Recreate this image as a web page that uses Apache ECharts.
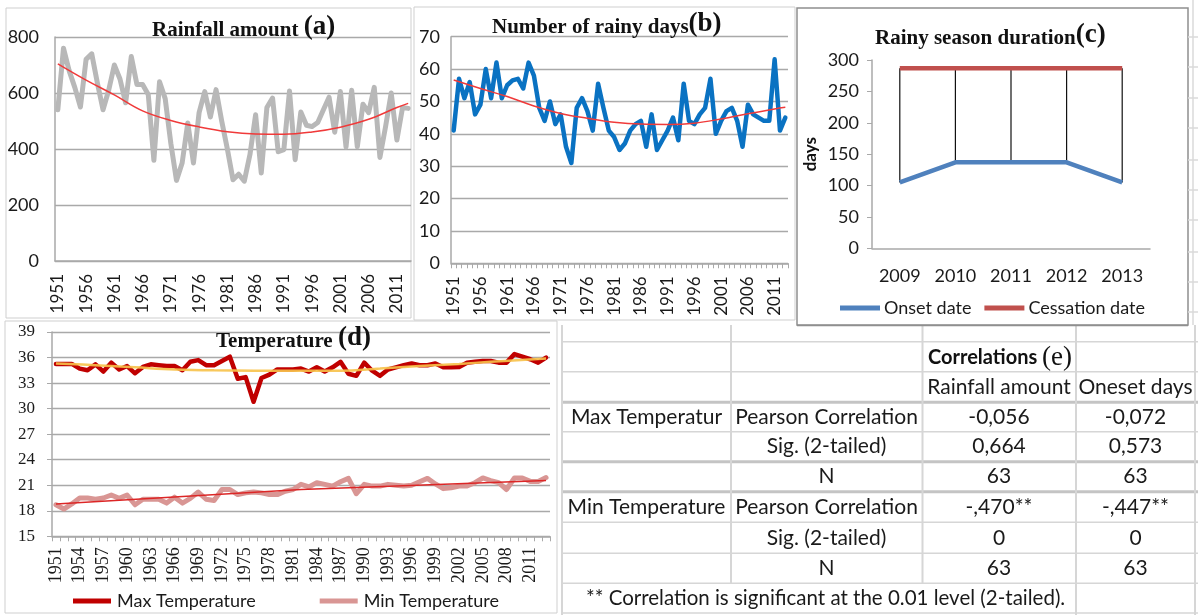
<!DOCTYPE html>
<html><head><meta charset="utf-8">
<script src="https://cdn.jsdelivr.net/npm/echarts@6/dist/echarts.min.js"></script>
<style>html,body{margin:0;padding:0;background:#fff}#c{width:1198px;height:615px}</style>
</head><body><div id="c"></div><script>
// ---------- categories ----------
const years = [];
for (let y = 1951; y <= 2013; y++) years.push(String(y));
const seasonYears = ['2009', '2010', '2011', '2012', '2013'];

// ---------- (a) Rainfall amount ----------
const rainfall = [540,760,680,620,550,720,740,636,540,610,
  700,650,565,730,630,630,595,360,640,580,
  420,288,350,493,350,530,605,514,612,500,
  400,290,310,285,380,522,314,548,582,390,
  398,607,362,532,485,480,495,540,585,460,
  605,407,610,408,560,530,620,370,480,600,
  432,548,545];
const rainTrend = [['1951',704],['1956',646],['1961',593],['1966',536],['1971',502],['1976',479],['1981',462],
  ['1986',454],['1991',453],['1996',461],['2001',478],['2006',506],['2011',548],['2013',563]];
const rainTicks = [0, 200, 400, 600, 800];

// ---------- (b) Number of rainy days ----------
const rainyDays = [41,57,51,56,46,49,60,51,62,51,
  55,56.5,57,54,62,58,48,44,50,43,
  46,36,31,48,51,47,41,55.5,48,41,
  39,35,37,41,43,44,36,46,35,38,
  41,45,38,55.5,44,43,46,48,57,40,
  44,47,48,44,36,49,46,45,44,44,
  63,41,45];
const daysTrend = [['1951',56.6],['1956',54],['1961',51.5],['1966',48.6],['1971',46.3],['1976',44.8],['1981',43.6],
  ['1986',43.0],['1991',42.9],['1996',43.3],['2001',44.6],['2006',46.2],['2011',47.7],['2013',48.2]];
const daysTicks = [0, 10, 20, 30, 40, 50, 60, 70];

// ---------- (c) Rainy season duration ----------
const onsetDate = [105, 137, 137, 137, 105];
const cessationDate = [287, 287, 287, 287, 287];
const seasonTicks = [0, 50, 100, 150, 200, 250, 300];

// ---------- (d) Temperature ----------
const maxTemp = [35.25,35.25,35.25,34.7,34.5,35.2,34.35,35.4,34.6,35.0,
  34.15,34.9,35.2,35.1,35.0,35.0,34.5,35.5,35.7,35.1,
  35.1,35.6,36.1,33.5,33.7,30.8,33.6,34.0,34.6,34.6,
  34.6,34.7,34.35,34.85,34.35,34.85,35.5,34.1,33.85,35.4,
  34.45,33.85,34.6,34.85,35.1,35.3,35.1,35.1,35.3,34.85,
  34.85,34.9,35.4,35.5,35.6,35.6,35.4,35.4,36.4,36.1,
  35.8,35.4,36.0];
const maxTrend = [['1951',35.3],['1956',35.1],['1961',34.85],['1966',34.6],['1971',34.5],['1981',34.45],
  ['1987',34.45],['1992',34.7],['1997',35.0],['2002',35.25],['2006',35.5],['2013',35.9]];
const minTemp = [18.7,18.2,18.8,19.5,19.5,19.35,19.5,19.85,19.45,19.85,
  18.7,19.35,19.35,19.35,18.9,19.6,18.9,19.45,20.2,19.35,
  19.2,20.5,20.5,19.9,20.1,20.2,20.1,19.9,19.9,20.3,
  20.5,21.1,20.8,21.3,21.1,20.9,21.4,21.8,20.0,21.1,
  20.9,20.9,21.1,21.0,20.9,21.0,21.4,21.8,21.15,20.6,
  20.7,20.9,20.9,21.3,21.85,21.55,21.3,20.5,21.85,21.85,
  21.45,21.45,21.9];
const minTrend = [['1951',18.8],['1982',20.5],['2013',21.55]];
const tempTicks = [15, 18, 21, 24, 27, 30, 33, 36, 39];

// ---------- (e) Correlations table ----------
const tableHeader = ['Rainfall amount', 'Oneset days'];
const tableRows = [
  ['Max Temperatur', 'Pearson Correlation', '-0,056', '-0,072'],
  ['', 'Sig. (2-tailed)', '0,664', '0,573'],
  ['', 'N', '63', '63'],
  ['Min Temperature', 'Pearson Correlation', '-,470**', '-,447**'],
  ['', 'Sig. (2-tailed)', '0', '0'],
  ['', 'N', '63', '63']
];
const footnote = '** Correlation is significant at the 0.01 level (2-tailed).';

// ---------- styling helpers ----------
const SANS = 'Lato';
const SERIF = 'Liberation Serif';
const GRIDC = '#a9a9a9';
function rng(t) { return { min: t[0], max: t[t.length - 1], interval: t[1] - t[0] }; }
function titleRich(main, tag, left, top) {
  return {
    text: '{t|' + main + '}{p|' + tag + '}', left: left, top: top, padding: 0,
    textStyle: { rich: {
      t: { fontFamily: SERIF, fontWeight: 'bold', fontSize: 21, color: '#111', verticalAlign: 'bottom' },
      p: { fontFamily: SERIF, fontWeight: 'bold', fontSize: 27, color: '#111', verticalAlign: 'bottom' }
    } }
  };
}
const lineBase = { type: 'line', symbol: 'none', animation: false };

// ---------- table graphics ----------
const colX = [562, 731, 922.5, 1076, 1195];
const rowY = [341.7, 371.7, 402.3, 431.7, 461.7, 491.7, 522.3, 553.3, 583.3, 613];
const colCenters = [646.5, 826.5, 999, 1135.5];
const thickRows = [402.3, 461.7, 491.7];
const graphics = [];
// panel frames
graphics.push({ type: 'rect', shape: { x: 6, y: 8, width: 405, height: 310 }, style: { fill: null, stroke: '#cfcfcf', lineWidth: 1 }, silent: true, z: -1 });
graphics.push({ type: 'rect', shape: { x: 414, y: 7, width: 381, height: 313 }, style: { fill: null, stroke: '#cfcfcf', lineWidth: 1 }, silent: true, z: -1 });
graphics.push({ type: 'rect', shape: { x: 797, y: 8, width: 391, height: 317 }, style: { fill: null, stroke: '#8f8f8f', lineWidth: 1.5 }, silent: true, z: -1 });
graphics.push({ type: 'rect', shape: { x: 5, y: 321, width: 552, height: 292 }, style: { fill: null, stroke: '#cfcfcf', lineWidth: 1 }, silent: true, z: -1 });
// spreadsheet grid on the right of panel (c)
graphics.push({ type: 'line', shape: { x1: 1193, y1: 0, x2: 1193, y2: 325 }, style: { stroke: '#dadada', lineWidth: 1.5 }, silent: true });
[37, 67, 98, 128, 160, 190, 220, 252, 282, 312].forEach(function (y) {
  graphics.push({ type: 'line', shape: { x1: 1188, y1: y, x2: 1198, y2: y }, style: { stroke: '#dadada', lineWidth: 1.5 }, silent: true });
});
// table lines
rowY.forEach(function (y) {
  const thick = thickRows.indexOf(y) >= 0;
  graphics.push({ type: 'line', shape: { x1: colX[0], y1: y, x2: 1198, y2: y },
    style: { stroke: thick ? '#c4c4c4' : '#d6d6d6', lineWidth: thick ? 3 : 1.5 }, silent: true });
});
colX.forEach(function (x, k) {
  const full = (k === 0 || k === 3 || k === 4);
  graphics.push({ type: 'line', shape: { x1: x, y1: 325, x2: x, y2: full ? 615 : 583.3 },
    style: { stroke: '#d6d6d6', lineWidth: 2 }, silent: true });
});
graphics.push({ type: 'line', shape: { x1: 797, y1: 325.5, x2: 1188, y2: 325.5 }, style: { stroke: '#8f8f8f', lineWidth: 1.5 }, silent: true });
function cellText(txt, x, y, opts) {
  const st = Object.assign({ text: txt, x: x, y: y, fill: '#1a1a1a', font: '21px ' + SANS, align: 'center', verticalAlign: 'middle' }, opts || {});
  graphics.push({ type: 'text', style: st, silent: true });
}
function midRow(k) { return (rowY[k] + rowY[k + 1]) / 2; }
// title row
graphics.push({ type: 'text', silent: true, style: {
  x: 928, y: midRow(0) + 1, verticalAlign: 'middle', align: 'left',
  text: '{b|Correlations }{e|(e)}',
  rich: { b: { fontFamily: SANS, fontWeight: 'bold', fontSize: 20, fill: '#111', verticalAlign: 'middle' },
          e: { fontFamily: SERIF, fontSize: 27, fill: '#111', verticalAlign: 'middle' } } } });
cellText(tableHeader[0], colCenters[2], midRow(1));
cellText(tableHeader[1], colCenters[3], midRow(1));
tableRows.forEach(function (r, k) {
  r.forEach(function (txt, c) { if (txt) cellText(txt, colCenters[c], midRow(k + 2)); });
});
cellText(footnote, 586, midRow(8), { align: 'left', font: '20.5px ' + SANS });

const option = {
  animation: false,
  backgroundColor: '#ffffff',
  title: [
    titleRich('Rainfall amount ', '(a)', 152, 14),
    titleRich('Number of rainy days', '(b)', 492, 11),
    titleRich('Rainy season duration', '(c)', 875, 22),
    titleRich('Temperature ', '(d)', 216, 325)
  ],
  legend: [
    { data: ['Onset date', 'Cessation date'], left: 840, top: 299, padding: 0, icon: 'rect', itemWidth: 40, itemHeight: 5, itemGap: 13,
      textStyle: { fontFamily: SANS, fontSize: 18, color: '#1a1a1a', padding: [0, 0, 0, -1] } },
    { data: ['Max Temperature', 'Min Temperature'], left: 73, top: 592, padding: 0, icon: 'rect', itemWidth: 38, itemHeight: 5, itemGap: 64,
      textStyle: { fontFamily: SANS, fontSize: 18, color: '#1a1a1a', padding: [0, 0, 0, 1] } }
  ],
  graphic: graphics,
  grid: [
    { left: 55, top: 37, width: 356, height: 224 },
    { left: 451, top: 36.7, width: 337, height: 226.6 },
    { left: 872, top: 60, width: 278, height: 188.3 },
    { left: 52, top: 332, width: 498, height: 204.3 }
  ],
  xAxis: [
    { gridIndex: 0, type: 'category', data: years, boundaryGap: true,
      axisLine: { lineStyle: { color: GRIDC, width: 1.5 } }, axisTick: { show: false },
      axisLabel: { rotate: 90, interval: 4, margin: 13, fontFamily: SANS, fontSize: 17, color: '#1a1a1a' } },
    { gridIndex: 1, type: 'category', data: years, boundaryGap: true,
      axisLine: { lineStyle: { color: GRIDC, width: 1.5 } }, axisTick: { show: true, interval: 0, length: 5, lineStyle: { color: GRIDC } },
      axisLabel: { rotate: 90, interval: 4, margin: 13, fontFamily: SANS, fontSize: 17, color: '#1a1a1a' } },
    { gridIndex: 2, type: 'category', data: seasonYears, boundaryGap: true,
      axisLine: { lineStyle: { color: GRIDC, width: 1.5 } }, axisTick: { show: false },
      axisLabel: { margin: 19, fontFamily: SANS, fontSize: 18, color: '#1a1a1a' } },
    { gridIndex: 3, type: 'category', data: years, boundaryGap: true,
      axisLine: { lineStyle: { color: GRIDC, width: 1.5 } }, axisTick: { show: true, interval: 0, length: 5, lineStyle: { color: GRIDC } },
      axisLabel: { rotate: 90, interval: 2, margin: 11, fontFamily: SERIF, fontSize: 18, color: '#1a1a1a' } }
  ],
  yAxis: [
    Object.assign({ gridIndex: 0, type: 'value' }, rng(rainTicks), {
      axisLine: { show: true, lineStyle: { color: GRIDC, width: 1.5 } }, axisTick: { show: false },
      splitLine: { lineStyle: { color: GRIDC, width: 1.3 } },
      axisLabel: { margin: 16, fontFamily: SANS, fontSize: 18, color: '#1a1a1a' } }),
    Object.assign({ gridIndex: 1, type: 'value' }, rng(daysTicks), {
      axisLine: { show: true, lineStyle: { color: GRIDC, width: 1.5 } }, axisTick: { show: false },
      splitLine: { lineStyle: { color: GRIDC, width: 1.3 } },
      axisLabel: { margin: 11, fontFamily: SANS, fontSize: 18, color: '#1a1a1a' } }),
    Object.assign({ gridIndex: 2, type: 'value' }, rng(seasonTicks), {
      name: 'days', nameLocation: 'middle', nameGap: 53, nameRotate: 90,
      nameTextStyle: { fontFamily: SANS, fontWeight: 'bold', fontSize: 17, color: '#111' },
      axisLine: { show: true, lineStyle: { color: GRIDC, width: 1.5 } }, axisTick: { show: true, length: 5, lineStyle: { color: GRIDC } },
      splitLine: { show: false },
      axisLabel: { margin: 13, fontFamily: SANS, fontSize: 18, color: '#1a1a1a' } }),
    Object.assign({ gridIndex: 3, type: 'value' }, rng(tempTicks), {
      axisLine: { show: true, lineStyle: { color: GRIDC, width: 1.5 } }, axisTick: { show: true, length: 5, lineStyle: { color: GRIDC } },
      splitLine: { lineStyle: { color: GRIDC, width: 1.3 } },
      axisLabel: { margin: 17, fontFamily: SERIF, fontSize: 17, color: '#1a1a1a' } })
  ],
  series: [
    Object.assign({}, lineBase, { name: 'Rainfall amount', xAxisIndex: 0, yAxisIndex: 0, data: rainfall,
      lineStyle: { color: '#b8b8b8', width: 5, join: 'round', cap: 'round' }, itemStyle: { color: '#b8b8b8' } }),
    Object.assign({}, lineBase, { name: 'rain trend', xAxisIndex: 0, yAxisIndex: 0, data: rainTrend, smooth: 0.4,
      lineStyle: { color: '#f03a3a', width: 1.5 } }),
    Object.assign({}, lineBase, { name: 'Number of rainy days', xAxisIndex: 1, yAxisIndex: 1, data: rainyDays,
      lineStyle: { color: '#0a72c2', width: 4.5, join: 'round', cap: 'round' }, itemStyle: { color: '#0a72c2' } }),
    Object.assign({}, lineBase, { name: 'days trend', xAxisIndex: 1, yAxisIndex: 1, data: daysTrend, smooth: 0.4,
      lineStyle: { color: '#f03a3a', width: 1.5 } }),
    { type: 'custom', name: 'hilo', xAxisIndex: 2, yAxisIndex: 2, z: 1, animation: false,
      data: onsetDate.map(function (v, i) { return [i, v, cessationDate[i]]; }),
      encode: { x: 0, y: [1, 2] },
      renderItem: function (params, api) {
        const a = api.coord([api.value(0), api.value(1)]);
        const b = api.coord([api.value(0), api.value(2)]);
        return { type: 'line', shape: { x1: a[0], y1: a[1], x2: b[0], y2: b[1] }, style: { stroke: '#111', lineWidth: 1.2 } };
      } },
    Object.assign({}, lineBase, { name: 'Onset date', xAxisIndex: 2, yAxisIndex: 2, data: onsetDate, z: 3,
      lineStyle: { color: '#4f81bd', width: 4.5 }, itemStyle: { color: '#4f81bd' } }),
    Object.assign({}, lineBase, { name: 'Cessation date', xAxisIndex: 2, yAxisIndex: 2, data: cessationDate, z: 3,
      lineStyle: { color: '#c0504d', width: 4.5 }, itemStyle: { color: '#c0504d' } }),
    Object.assign({}, lineBase, { name: 'Max Temperature', xAxisIndex: 3, yAxisIndex: 3, data: maxTemp,
      lineStyle: { color: '#c00000', width: 4.5, join: 'round', cap: 'round' }, itemStyle: { color: '#c00000' } }),
    Object.assign({}, lineBase, { name: 'max trend', xAxisIndex: 3, yAxisIndex: 3, data: maxTrend, smooth: 0.4,
      lineStyle: { color: '#f7c24a', width: 2.5, opacity: 0.9 } }),
    Object.assign({}, lineBase, { name: 'Min Temperature', xAxisIndex: 3, yAxisIndex: 3, data: minTemp,
      lineStyle: { color: '#d99694', width: 5, join: 'round', cap: 'round' }, itemStyle: { color: '#d99694' } }),
    Object.assign({}, lineBase, { name: 'min trend', xAxisIndex: 3, yAxisIndex: 3, data: minTrend,
      lineStyle: { color: '#dc2626', width: 1.5 } })
  ]
};
const chart = echarts.init(document.getElementById('c'));
chart.setOption(option);
</script></body></html>
